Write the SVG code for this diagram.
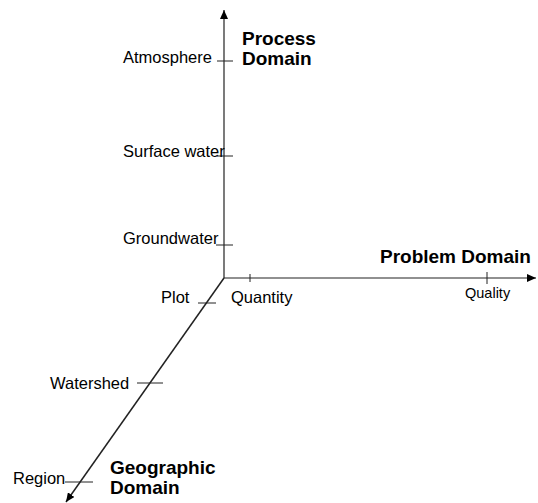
<svg xmlns="http://www.w3.org/2000/svg" width="538" height="503" viewBox="0 0 538 503">
<style>
  .lbl { font-family: "Liberation Sans", Arial, sans-serif; font-size: 16.5px; fill: #000; }
  .small { font-family: "Liberation Sans", Arial, sans-serif; font-size: 14.5px; fill: #000; }
  .title { font-family: "Liberation Sans", Arial, sans-serif; font-size: 19px; font-weight: bold; fill: #000; }
  .axis { stroke: #222; stroke-width: 1.2; fill: none; }
  .tick { stroke: #222; stroke-width: 1; fill: none; }
</style>
<defs>
  <marker id="arr" markerUnits="userSpaceOnUse" markerWidth="9" markerHeight="8" refX="9" refY="4" orient="auto" viewBox="0 0 9 8">
    <path d="M0,0 L9,4 L0,8 z" fill="#000"/>
  </marker>
</defs>
<rect width="538" height="503" fill="#fff"/>
<g id="connectors">
  <line class="axis" x1="224" y1="278" x2="224" y2="10" marker-end="url(#arr)"/>
  <line class="axis" x1="224" y1="278" x2="536" y2="278" marker-end="url(#arr)"/>
  <line class="axis" style="stroke-width:1.5" x1="224" y1="278" x2="66" y2="502" marker-end="url(#arr)"/>
  <line class="tick" x1="217" y1="61" x2="233" y2="61"/>
  <line class="tick" x1="217" y1="156" x2="233" y2="156"/>
  <line class="tick" x1="216" y1="245" x2="233" y2="245"/>
  <line class="tick" x1="250" y1="274" x2="250" y2="282"/>
  <line class="tick" x1="487" y1="272" x2="487" y2="284"/>
  <line class="tick" x1="198" y1="303" x2="216" y2="303"/>
  <line class="tick" x1="137" y1="383" x2="163" y2="383"/>
  <line class="tick" x1="65" y1="482" x2="93" y2="482"/>
</g>
<g id="process-domain">
  <text class="title" x="242" y="45">Process</text>
  <text class="title" x="242" y="65">Domain</text>
</g>
<g id="problem-domain">
  <text class="title" x="380" y="263">Problem Domain</text>
</g>
<g id="geographic-domain">
  <text class="title" x="110" y="474">Geographic</text>
  <text class="title" x="110" y="494">Domain</text>
</g>
<g id="atmosphere"><text class="lbl" x="123" y="63">Atmosphere</text></g>
<g id="surface-water"><text class="lbl" x="123" y="157">Surface water</text></g>
<g id="groundwater"><text class="lbl" x="123" y="244">Groundwater</text></g>
<g id="quantity"><text class="lbl" x="231" y="303">Quantity</text></g>
<g id="quality"><text class="small" x="465" y="298">Quality</text></g>
<g id="plot"><text class="lbl" x="161" y="303">Plot</text></g>
<g id="watershed"><text class="lbl" x="50" y="389">Watershed</text></g>
<g id="region"><text class="lbl" x="13" y="484">Region</text></g>
</svg>
